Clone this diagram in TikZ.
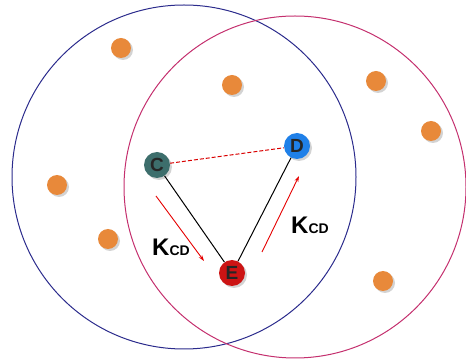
\documentclass[tikz,border=0pt]{standalone}
\usepackage{fontspec}
\setmainfont{Liberation Sans}
\usetikzlibrary{shadows,arrows.meta}
\definecolor{navyc}{HTML}{2B2B8C}
\definecolor{pinkc}{HTML}{C4306E}
\definecolor{orangedot}{HTML}{E8893A}
\definecolor{tealn}{HTML}{3D6E6C}
\definecolor{bluen}{HTML}{1F80E8}
\definecolor{redn}{HTML}{CC1414}
\tikzset{
  ringline/.style={draw,line width=1pt},
  peerdot/.style={circle,fill=orangedot,minimum size=20pt,inner sep=0pt,
    drop shadow={shadow xshift=2pt,shadow yshift=-2pt,opacity=0.35}},
  ballnode/.style={circle,minimum size=26pt,inner sep=0pt,
    font=\bfseries\fontsize{19}{19}\selectfont,text=black!85,
    drop shadow={shadow xshift=2pt,shadow yshift=-2pt,opacity=0.35}},
  edgeline/.style={draw,black,line width=1pt},
  dashline/.style={draw=red!85!black,line width=1pt,dash pattern=on 4pt off 2pt},
  flowarrow/.style={draw=red!90!black,line width=0.9pt,-{Stealth[length=6pt,width=4pt]}},
  klabel/.style={font=\bfseries\fontsize{24}{24}\selectfont}
}
\begin{document}
\begin{tikzpicture}[x=1pt,y=-1pt]
\useasboundingbox (0,0) rectangle (466,363);
\draw[ringline,navyc] (184,177) circle[radius=172];
\draw[ringline,pinkc] (295,187) circle[radius=171];
\node[peerdot] (o1) at (121,48) {};
\node[peerdot] (o2) at (232,85) {};
\node[peerdot] (o3) at (376,81) {};
\node[peerdot] (o4) at (431,131) {};
\node[peerdot] (o5) at (57,185) {};
\node[peerdot] (o6) at (108,239) {};
\node[peerdot] (o7) at (383,281) {};
\node[ballnode,fill=tealn] (C) at (157,165) {C};
\node[ballnode,fill=bluen] (D) at (297,146) {D};
\node[ballnode,fill=redn] (E) at (232,273) {E};
\draw[edgeline] (C) -- (E);
\draw[edgeline] (D) -- (E);
\draw[dashline] (C) -- (D);
\coordinate (a1s) at (156,196);
\coordinate (a1e) at (204,261);
\coordinate (a2s) at (262,252);
\coordinate (a2e) at (299,176);
\draw[flowarrow] (a1s) -- (a1e);
\draw[flowarrow] (a2s) -- (a2e);
\node[klabel] (k1) at (171,247) {K\fontsize{14}{14}\selectfont CD};
\node[klabel] (k2) at (310,225) {K\fontsize{14}{14}\selectfont CD};
\end{tikzpicture}
\end{document}
